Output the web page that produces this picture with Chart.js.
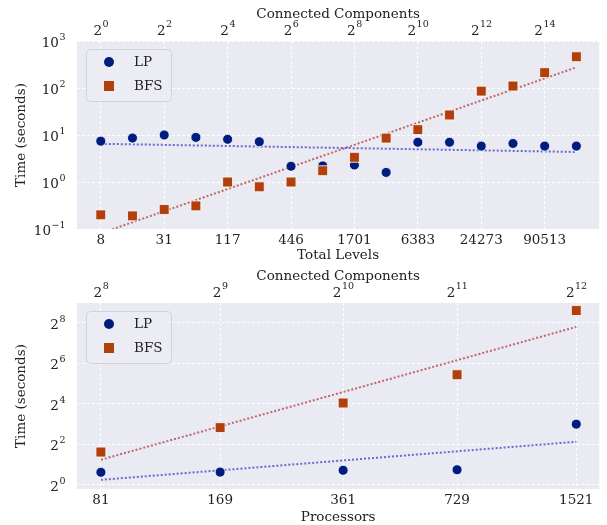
<!DOCTYPE html>
<html>
<head>
<meta charset="utf-8">
<script src="https://cdn.jsdelivr.net/npm/chart.js@4/dist/chart.umd.min.js"></script>
<style>
  body { margin: 0; background: #fff; }
  #wrap { position: relative; width: 607px; height: 525px; }
  canvas { position: absolute; left: 0; }
</style>
</head>
<body>
<div id="wrap">
  <canvas id="top" width="607" height="262" style="top:0"></canvas>
  <canvas id="bottom" width="607" height="263" style="top:262px"></canvas>
</div>
<script>
// ---- top panel: time vs total levels (index on x) ----
const levelIndex = [0, 1, 2, 3, 4, 5, 6, 7, 8, 9, 10, 11, 12, 13, 14, 15];
const levelTickIndex = [0, 2, 4, 6, 8, 10, 12, 14];
const levelTickLabels = ['8', '31', '117', '446', '1701', '6383', '24273', '90513'];
const ccTopExponents = [0, 2, 4, 6, 8, 10, 12, 14];
const lpLevels  = [7.4, 8.6, 10, 8.9, 8.1, 7.2, 2.16, 2.2, 2.3, 1.6, 7.0, 7.0, 5.8, 6.6, 5.8, 5.8];
const bfsLevels = [0.2, 0.19, 0.26, 0.31, 1.0, 0.79, 1.0, 1.74, 3.35, 8.6, 13, 26.7, 86, 110, 212, 463];
const trendIndex = [0, 15];
const lpTrendLevels  = [6.5, 4.35];
const bfsTrendLevels = [0.081, 275];
const topYTicks = [0.1, 1, 10, 100, 1000];
const topYExponents = [-1, 0, 1, 2, 3];

// ---- bottom panel: time vs processors ----
const processors = [81, 169, 361, 729, 1521];
const ccBottomExponents = [8, 9, 10, 11, 12];
const lpProc  = [1.54, 1.55, 1.65, 1.68, 8.0];
const bfsProc = [3.08, 7.1, 16.5, 43.4, 390];
const procTrendX = [81, 1521];
const lpTrendProc  = [1.19, 4.38];
const bfsTrendProc = [2.37, 223];
const bottomYTicks = [1, 4, 16, 64, 256];
const bottomYExponents = [0, 2, 4, 6, 8];

const LP_COLOR = '#001c7f';
const BFS_COLOR = '#b1400d';
const TEXT = '#222';
const FONT = "'DejaVu Serif', serif";

const pts = (xs, ys) => xs.map((x, i) => ({ x, y: ys[i] }));

// plot background + legend drawn inside the axes
const panelPlugin = {
  id: 'panel',
  beforeDraw(chart) {
    const { ctx, chartArea: a } = chart;
    ctx.save();
    ctx.fillStyle = '#eaeaf2';
    ctx.fillRect(a.left, a.top, a.right - a.left, a.bottom - a.top);
    ctx.restore();
  },
  afterDraw(chart) {
    const { ctx, chartArea: a } = chart;
    const x0 = a.left + 9, y0 = a.top + 8, w = 85, h = 52;
    ctx.save();
    ctx.beginPath();
    ctx.roundRect(x0 + 0.5, y0 + 0.5, w, h, 4);
    ctx.fillStyle = 'rgba(236,236,244,0.85)';
    ctx.fill();
    ctx.strokeStyle = '#d2d2da';
    ctx.lineWidth = 1;
    ctx.stroke();
    ctx.beginPath();
    ctx.arc(a.left + 32, a.top + 21, 5, 0, Math.PI * 2);
    ctx.fillStyle = LP_COLOR;
    ctx.fill();
    ctx.fillStyle = BFS_COLOR;
    ctx.fillRect(a.left + 27, a.top + 40, 10, 10);
    ctx.fillStyle = TEXT;
    ctx.font = '13.5px ' + FONT;
    ctx.textBaseline = 'middle';
    ctx.fillText('LP', a.left + 57, a.top + 21);
    ctx.fillText('BFS', a.left + 57, a.top + 45);
    ctx.restore();
  }
};

// power-of tick labels (base with raised exponent), placed by the scales
const supPlugin = {
  id: 'supLabels',
  afterDraw(chart, args, opts) {
    const { ctx, chartArea: a } = chart;
    ctx.save();
    ctx.fillStyle = TEXT;
    ctx.textBaseline = 'middle';
    ctx.textAlign = 'left';
    const draw = (base, exp, x, y, align) => {
      ctx.font = '13.5px ' + FONT;
      const bw = ctx.measureText(base).width;
      ctx.font = '9.5px ' + FONT;
      const txt = String(exp).replace('-', '\u2212');
      const ew = ctx.measureText(txt).width;
      const left = align === 'right' ? x - bw - ew : x - (bw + ew) / 2;
      ctx.font = '13.5px ' + FONT;
      ctx.fillText(base, left, y);
      ctx.font = '9.5px ' + FONT;
      ctx.fillText(txt, left + bw + 0.5, y - 6);
    };
    for (const id of Object.keys(opts.axes || {})) {
      const cfg = opts.axes[id];
      const scale = chart.scales[id];
      cfg.values.forEach((v, i) => {
        if (scale.axis === 'y') {
          draw(cfg.base, cfg.exps[i], a.left - 12, scale.getPixelForValue(v) + 2.5, 'right');
        } else {
          draw(cfg.base, cfg.exps[i], scale.getPixelForValue(v), a.top - 10, 'center');
        }
      });
    }
    ctx.restore();
  }
};

function datasets(lp, bfs, lpTrend, bfsTrend) {
  return [
    { label: 'BFS', data: bfs, pointStyle: 'rect', pointRadius: 7, backgroundColor: BFS_COLOR,
      borderColor: '#fff', borderWidth: 0.8, order: 0 },
    { label: 'LP', data: lp, pointStyle: 'circle', pointRadius: 5, backgroundColor: LP_COLOR,
      borderColor: '#fff', borderWidth: 0.8, order: 1 },
    { label: 'LP fit', data: lpTrend, showLine: true, pointRadius: 0, borderWidth: 2,
      borderColor: 'rgba(50,50,200,0.7)', borderDash: [2, 2], order: 2 },
    { label: 'BFS fit', data: bfsTrend, showLine: true, pointRadius: 0, borderWidth: 2,
      borderColor: 'rgba(175,45,50,0.7)', borderDash: [2, 2], order: 3 },
  ];
}

const tickFont = { family: FONT, size: 13.5 };
const titleFont = { family: FONT, size: 13.5 };
const gridOpts = { color: 'rgba(255,255,255,0.95)', lineWidth: 1, drawTicks: false };
const borderOpts = { display: false, dash: [3, 2] };

function baseOptions(xBottom, xTop, y, supAxes) {
  return {
    responsive: false,
    animation: false,
    layout: { padding: { left: 0, right: 3, top: 0, bottom: 0 } },
    plugins: { legend: { display: false }, tooltip: { enabled: false }, supLabels: { axes: supAxes } },
    scales: { x: xBottom, x2: xTop, y }
  };
}

// top chart
new Chart(document.getElementById('top'), {
  type: 'scatter',
  data: {
    datasets: datasets(pts(levelIndex, lpLevels), pts(levelIndex, bfsLevels),
                       pts(trendIndex, lpTrendLevels), pts(trendIndex, bfsTrendLevels))
  },
  options: baseOptions(
    {
      type: 'linear', position: 'bottom', min: -0.75, max: 15.72,
      grid: gridOpts, border: borderOpts,
      afterBuildTicks: s => { s.ticks = levelTickIndex.map(v => ({ value: v })); },
      afterFit: s => { s.height = 33; },
      ticks: { font: tickFont, color: TEXT, padding: 3, autoSkip: false, maxRotation: 0,
               callback: v => levelTickLabels[levelTickIndex.indexOf(v)] },
      title: { display: true, text: 'Total Levels', font: titleFont, color: TEXT, padding: { top: 0, bottom: -2 } }
    },
    {
      type: 'linear', position: 'top', min: -0.75, max: 15.72,
      grid: { display: false, drawTicks: false }, border: { display: false },
      afterBuildTicks: s => { s.ticks = levelTickIndex.map(v => ({ value: v })); },
      afterFit: s => { s.height = 41; },
      ticks: { display: false },
      title: { display: true, text: 'Connected Components', font: titleFont, color: TEXT, padding: { top: 6, bottom: 0 } }
    },
    {
      type: 'logarithmic', min: 0.1, max: 1000,
      grid: gridOpts, border: borderOpts,
      afterBuildTicks: s => { s.ticks = topYTicks.map(v => ({ value: v })); },
      afterFit: s => { s.width = 77; },
      ticks: { display: false },
      title: { display: true, text: 'Time (seconds)', font: titleFont, color: TEXT, padding: { top: 13, bottom: 0 } }
    },
    {
      x2: { base: '2', values: levelTickIndex, exps: ccTopExponents },
      y: { base: '10', values: topYTicks, exps: topYExponents }
    }
  ),
  plugins: [panelPlugin, supPlugin]
});

// bottom chart
new Chart(document.getElementById('bottom'), {
  type: 'scatter',
  data: {
    datasets: datasets(pts(processors, lpProc), pts(processors, bfsProc),
                       pts(procTrendX, lpTrendProc), pts(procTrendX, bfsTrendProc))
  },
  options: baseOptions(
    {
      type: 'logarithmic', position: 'bottom', min: 69.9, max: 1752,
      grid: gridOpts, border: borderOpts,
      afterBuildTicks: s => { s.ticks = processors.map(v => ({ value: v })); },
      afterFit: s => { s.height = 36; },
      ticks: { font: tickFont, color: TEXT, padding: 3, autoSkip: false, maxRotation: 0,
               callback: v => String(v) },
      title: { display: true, text: 'Processors', font: titleFont, color: TEXT, padding: { top: 0, bottom: -1 } }
    },
    {
      type: 'logarithmic', position: 'top', min: 69.9, max: 1752,
      grid: { display: false, drawTicks: false }, border: { display: false },
      afterBuildTicks: s => { s.ticks = processors.map(v => ({ value: v })); },
      afterFit: s => { s.height = 41; },
      ticks: { display: false },
      title: { display: true, text: 'Connected Components', font: titleFont, color: TEXT, padding: { top: 6, bottom: 0 } }
    },
    {
      type: 'logarithmic', min: 0.87, max: 505,
      grid: gridOpts, border: borderOpts,
      afterBuildTicks: s => { s.ticks = bottomYTicks.map(v => ({ value: v })); },
      afterFit: s => { s.width = 77; },
      ticks: { display: false },
      title: { display: true, text: 'Time (seconds)', font: titleFont, color: TEXT, padding: { top: 13, bottom: 0 } }
    },
    {
      x2: { base: '2', values: processors, exps: ccBottomExponents },
      y: { base: '2', values: bottomYTicks, exps: bottomYExponents }
    }
  ),
  plugins: [panelPlugin, supPlugin]
});
</script>
</body>
</html>
